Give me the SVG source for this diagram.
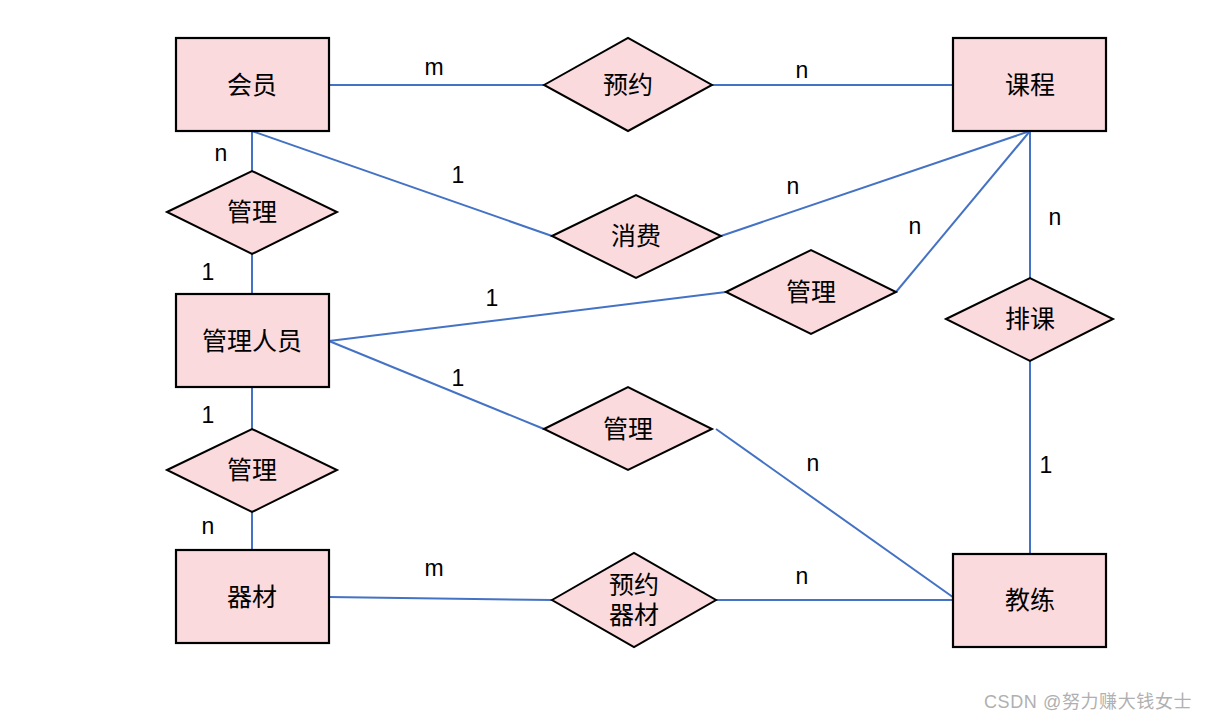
<svg xmlns="http://www.w3.org/2000/svg" width="1211" height="720" viewBox="0 0 1211 720">
<style>
.ent{fill:#fadadd;stroke:#000;stroke-width:2.2}
.rel{fill:#fadadd;stroke:#000;stroke-width:2}
.t{font-family:"Liberation Sans","Noto Sans CJK SC",sans-serif;font-size:25px;fill:#000;text-anchor:middle;dominant-baseline:central}
.lb{font-family:"Liberation Sans","Noto Sans CJK SC",sans-serif;font-size:23px;fill:#000;text-anchor:middle;dominant-baseline:central}
.c line{stroke:#4472c4;stroke-width:2;fill:none}
.wm{font-family:"Liberation Sans","Noto Sans CJK SC",sans-serif;font-size:18px;fill:#b0b0b0;letter-spacing:0.6px}
</style>
<rect width="1211" height="720" fill="#fff"/>
<g id="connectors" class="c">
<line x1="329" y1="85" x2="544" y2="85"/>
<line x1="712" y1="85" x2="953" y2="85"/>
<line x1="252" y1="131" x2="252" y2="171"/>
<line x1="252" y1="254" x2="252" y2="294"/>
<line x1="252" y1="131" x2="552" y2="236"/>
<line x1="721" y1="236" x2="1030" y2="131"/>
<line x1="1026" y1="130" x2="1039" y2="131"/>
<line x1="896" y1="292" x2="1030" y2="131"/>
<line x1="329" y1="341" x2="726" y2="292"/>
<line x1="1030" y1="131" x2="1030" y2="278"/>
<line x1="1030" y1="361" x2="1030" y2="553"/>
<line x1="329" y1="341" x2="544" y2="429"/>
<line x1="716" y1="429" x2="957" y2="600"/>
<line x1="252" y1="387" x2="252" y2="429"/>
<line x1="252" y1="512" x2="252" y2="550"/>
<line x1="329" y1="597" x2="552" y2="600"/>
<line x1="716" y1="600" x2="957" y2="600"/>
</g>
<g id="labels">
<text class="lb" x="434" y="67">m</text>
<text class="lb" x="802" y="70">n</text>
<text class="lb" x="221" y="153">n</text>
<text class="lb" x="208" y="272">1</text>
<text class="lb" x="458" y="175">1</text>
<text class="lb" x="793" y="186">n</text>
<text class="lb" x="915" y="226">n</text>
<text class="lb" x="1055" y="217">n</text>
<text class="lb" x="492" y="298">1</text>
<text class="lb" x="458" y="378">1</text>
<text class="lb" x="208" y="415">1</text>
<text class="lb" x="208" y="526">n</text>
<text class="lb" x="813" y="463">n</text>
<text class="lb" x="1046" y="465">1</text>
<text class="lb" x="434" y="568">m</text>
<text class="lb" x="802" y="576">n</text>
</g>
<g id="member"><rect class="ent" x="176" y="38" width="153" height="93"/><text class="t" x="252" y="85">会员</text></g>
<g id="course"><rect class="ent" x="953" y="38" width="153" height="93"/><text class="t" x="1030" y="85">课程</text></g>
<g id="admin"><rect class="ent" x="176" y="294" width="153" height="93"/><text class="t" x="252" y="341">管理人员</text></g>
<g id="equipment"><rect class="ent" x="176" y="550" width="153" height="93"/><text class="t" x="252" y="597">器材</text></g>
<g id="coach"><rect class="ent" x="953" y="554" width="153" height="93"/><text class="t" x="1030" y="600">教练</text></g>
<g id="reserve"><polygon class="rel" points="544,85 628,38 712,85 628,131"/><text class="t" x="628" y="85">预约</text></g>
<g id="manage1"><polygon class="rel" points="167,212 252,171 337,212 252,254"/><text class="t" x="252" y="212">管理</text></g>
<g id="consume"><polygon class="rel" points="552,236 636,195 721,236 636,278"/><text class="t" x="636" y="236">消费</text></g>
<g id="manage2"><polygon class="rel" points="726,292 811,250 896,292 811,334"/><text class="t" x="811" y="292">管理</text></g>
<g id="schedule"><polygon class="rel" points="946,319 1030,278 1113,319 1030,361"/><text class="t" x="1030" y="319">排课</text></g>
<g id="manage3"><polygon class="rel" points="544,429 628,387 712,429 628,470"/><text class="t" x="628" y="429">管理</text></g>
<g id="manage4"><polygon class="rel" points="167,470 252,429 337,470 252,512"/><text class="t" x="252" y="470">管理</text></g>
<g id="reserveEquip"><polygon class="rel" points="552,600 634,553 716,600 634,647"/><text class="t" x="634" y="585">预约</text><text class="t" x="634" y="615">器材</text></g>
<text class="wm" x="984" y="708">CSDN @努力赚大钱女士</text>
</svg>
